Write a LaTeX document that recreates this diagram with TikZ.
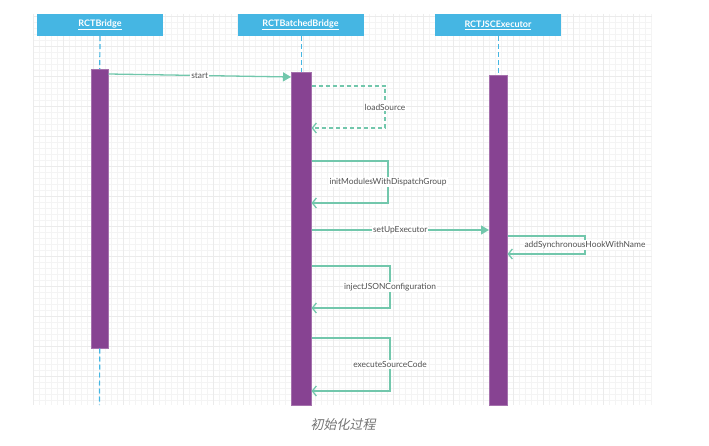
\documentclass[tikz,border=0pt]{standalone}
\usepackage{fontspec}
\setmainfont{Lato}
\newfontfamily\cjk[FakeSlant=0.2]{Noto Sans CJK SC}
\usetikzlibrary{arrows.meta,calc}
\definecolor{hdr}{HTML}{45B6E3}
\definecolor{barc}{HTML}{874392}
\definecolor{msg}{HTML}{72C7AC}
\definecolor{gridminor}{HTML}{F4F4F4}
\definecolor{gridmajor}{HTML}{EBEBEB}
\definecolor{lblc}{HTML}{505050}
\begin{document}
\begin{tikzpicture}[x=1pt,y=-1pt,
 header/.style={fill=hdr, draw=none, minimum width=126pt, minimum height=22pt, text=white, font=\fontsize{9}{10}\selectfont\bfseries, inner sep=0pt},
 actbar/.style={fill=barc, draw=barc!75!white, line width=0.5pt, inner sep=0pt, anchor=north west},
 lifeline/.style={draw=hdr, line width=1.2pt, dash pattern=on 5pt off 3pt},
 call/.style={draw=msg, line width=1.3pt, -{Triangle[length=8pt,width=9pt]}},
 ret/.style={draw=msg, line width=1.3pt, -{Straight Barb[length=4pt,width=10pt]}},
 retdash/.style={ret, dash pattern=on 4pt off 3pt},
 lbl/.style={fill=white, text=lblc, font=\fontsize{8.4}{9}\selectfont, inner sep=1pt}
]
\useasboundingbox (0,0) rectangle (709,446);
% grid
\foreach \x in {33,39,...,651} \draw[gridminor, line width=0.5pt] (\x,14) -- (\x,405);
\foreach \y in {16,22,...,404} \draw[gridminor, line width=0.5pt] (33,\y) -- (652,\y);
\foreach \x in {33,63,...,651} \draw[gridmajor, line width=0.6pt] (\x,14) -- (\x,405);
\foreach \y in {16,46,...,404} \draw[gridmajor, line width=0.6pt] (33,\y) -- (652,\y);

% headers
\node[header] (h1) at (100,25) {\underline{RCTBridge}};
\node[header] (h2) at (300.5,25) {\underline{RCTBatchedBridge}};
\node[header] (h3) at (498,25) {\underline{RCTJSCExecutor}};

% activation bars
\node[actbar, minimum width=17pt, minimum height=279pt] (b1) at (91,69) {};
\node[actbar, minimum width=20pt, minimum height=333pt] (b2) at (291,72) {};
\node[actbar, minimum width=18pt, minimum height=330pt] (b3) at (489,75) {};

% lifelines
\coordinate (e1) at (99.5,405);
\draw[lifeline] (h1.south) -- (b1.north);
\draw[lifeline] (b1.south) -- (e1);
\draw[lifeline] (h2.south -| b2.north) -- (b2.north);
\draw[lifeline] (h3.south -| b3.north) -- (b3.north);

% messages
\draw[call] (b1.east |- 0,74) -- node[lbl] {start} (b2.west |- 0,77);
\draw[retdash] (b2.east |- 0,86) -- (385,86) -- node[lbl] {loadSource} (385,128) -- (b2.east |- 0,128);
\draw[ret] (b2.east |- 0,161) -- (388,161) -- node[lbl] {initModulesWithDispatchGroup} (388,203) -- (b2.east |- 0,203);
\draw[call] (b2.east |- 0,230) -- node[lbl] {setUpExecutor} (b3.west |- 0,230);
\draw[ret] (b3.east |- 0,236) -- (585,236) -- node[lbl] {addSynchronousHookWithName} (585,254) -- (b3.east |- 0,254);
\draw[ret] (b2.east |- 0,266) -- (390,266) -- node[lbl] {injectJSONConfiguration} (390,308) -- (b2.east |- 0,308);
\draw[ret] (b2.east |- 0,338) -- (390,338) -- node[lbl] {executeSourceCode} (390,391) -- (b2.east |- 0,391);

% caption
\node[text=black!55, font=\cjk\fontsize{13}{15}\selectfont] (cap) at (343,425) {初始化过程};
\end{tikzpicture}
\end{document}
